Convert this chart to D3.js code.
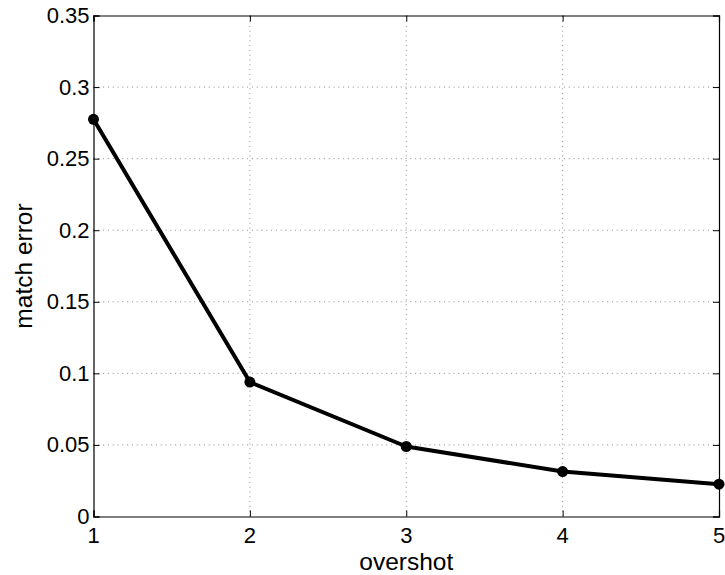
<!DOCTYPE html>
<html>
<head>
<meta charset="utf-8">
<script src="https://cdn.jsdelivr.net/npm/d3@7"></script>
<style>
  html, body { margin: 0; padding: 0; background: #fff; }
  svg { display: block; }
  text { font-family: "Liberation Sans", Arial, Helvetica, sans-serif; fill: #000; }
</style>
</head>
<body>
<svg id="chart" width="725" height="575"></svg>
<script>
const overshot = [1, 2, 3, 4, 5];
const matchError = [0.2775, 0.0939, 0.0489, 0.0314, 0.0226];
const xTicks = [1, 2, 3, 4, 5];
const yTicks = [0, 0.05, 0.1, 0.15, 0.2, 0.25, 0.3, 0.35];
const yTickLabels = ["0", "0.05", "0.1", "0.15", "0.2", "0.25", "0.3", "0.35"];
const xLabel = "overshot";
const yLabel = "match error";

const svg = d3.select("#chart");
const L = 93.5, R = 719, T = 15.5, B = 516.5;
const x = d3.scaleLinear().domain([1, 5]).range([L, R]);
const y = d3.scaleLinear().domain([0, 0.35]).range([B, T]);
const fs = 22, lfs = 24.5;

// grid
const grid = svg.append("g");
grid.selectAll(".gx").data(xTicks.slice(1, -1)).enter().append("line")
  .attr("x1", d => x(d)).attr("x2", d => x(d)).attr("y1", B).attr("y2", T)
  .attr("stroke", "#8a8a8a").attr("stroke-width", 1).attr("stroke-dasharray", "1,3.8");
grid.selectAll(".gy").data(yTicks.slice(1, -1)).enter().append("line")
  .attr("x1", L).attr("x2", R).attr("y1", d => y(d)).attr("y2", d => y(d))
  .attr("stroke", "#8a8a8a").attr("stroke-width", 1).attr("stroke-dasharray", "1,3.8");

// axes (inward ticks, box)
const tl = 6;
const axL = svg.append("g").attr("transform", `translate(${L},0)`)
  .call(d3.axisRight(y).tickValues(yTicks).tickSize(tl).tickFormat(""));
const axR = svg.append("g").attr("transform", `translate(${R},0)`)
  .call(d3.axisLeft(y).tickValues(yTicks).tickSize(tl).tickFormat(""));
const axB = svg.append("g").attr("transform", `translate(0,${B})`)
  .call(d3.axisTop(x).tickValues(xTicks).tickSize(tl).tickFormat(""));
const axT = svg.append("g").attr("transform", `translate(0,${T})`)
  .call(d3.axisBottom(x).tickValues(xTicks).tickSize(tl).tickFormat(""));
[axL, axR, axB, axT].forEach(a => {
  a.selectAll("path.domain").attr("stroke", "#000").attr("stroke-width", 1.2);
  a.selectAll("line").attr("stroke", "#000").attr("stroke-width", 1);
});

// tick labels
svg.append("g").selectAll("text").data(yTicks).enter().append("text")
  .attr("x", L - 4).attr("y", d => y(d))
  .attr("text-anchor", "end").attr("dominant-baseline", "central")
  .attr("font-size", fs)
  .text((d, i) => yTickLabels[i]);
svg.append("g").selectAll("text").data(xTicks).enter().append("text")
  .attr("x", d => x(d)).attr("y", B + 26)
  .attr("text-anchor", "middle")
  .attr("font-size", fs)
  .text(d => d);

// axis labels
svg.append("text").attr("x", (L + R) / 2).attr("y", 570)
  .attr("text-anchor", "middle").attr("font-size", lfs).text(xLabel);
svg.append("text").attr("transform", `translate(32,${(T + B) / 2}) rotate(-90)`)
  .attr("text-anchor", "middle").attr("font-size", lfs).text(yLabel);

// line + markers
const data = overshot.map((o, i) => ({ o, v: matchError[i] }));
svg.append("path").datum(data)
  .attr("fill", "none").attr("stroke", "#000").attr("stroke-width", 4)
  .attr("stroke-linejoin", "round")
  .attr("d", d3.line().x(d => x(d.o)).y(d => y(d.v)));
svg.append("g").selectAll("circle").data(data).enter().append("circle")
  .attr("cx", d => x(d.o)).attr("cy", d => y(d.v)).attr("r", 5.5).attr("fill", "#000");
</script>
</body>
</html>
